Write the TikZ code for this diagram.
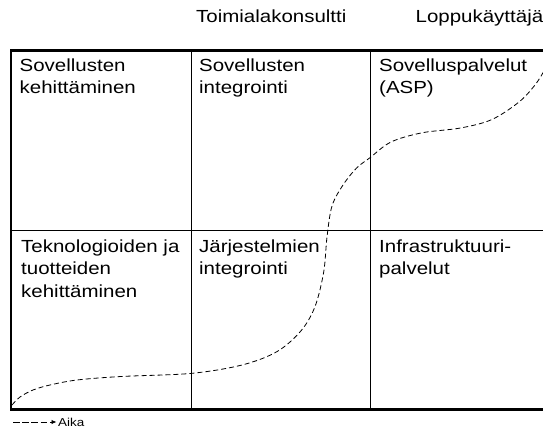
\documentclass[tikz,border=0pt]{standalone}
\usepackage{fontspec}
\setmainfont{Liberation Sans}
\newfontfamily\cellfont{Liberation Sans}[FakeStretch=1.17]
\usetikzlibrary{arrows.meta}
\begin{document}
\begin{tikzpicture}[x=1pt,y=-1pt,
  frame/.style={line width=2.2pt},
  grid/.style={line width=0.9pt},
  celltext/.style={anchor=base west,inner sep=0pt,align=left,
    font=\cellfont\fontsize{17.5}{22.5}\selectfont},
  headtext/.style={anchor=base west,inner sep=0pt,
    font=\cellfont\fontsize{17.5}{22.5}\selectfont},
  path/.style={line width=0.8pt,dash pattern=on 5pt off 3pt},
  legendline/.style={line width=0.8pt,dash pattern=on 6.5pt off 2.7pt,
    -{Latex[length=5pt,width=4.5pt]}}]
\useasboundingbox (0,0) rectangle (543,428);

% column headings
\node[headtext] (hc) at (196,22.7) {Toimialakonsultti};
\node[headtext] (hu) at (415.5,22.7) {Loppukäyttäjä};

% grid of the matrix
\draw[grid] (191.5,50.5) -- (191.5,409.5);
\draw[grid] (370,50.5) -- (370,409.5);
\draw[grid] (11,230) -- (545,230);
\draw[frame] (545,50.5) -- (11,50.5) -- (11,409.5) -- (545,409.5);

% cells (each node sits on the baseline of its last line)
\node[celltext] (a1) at (19.5,93.5) {Sovellusten\\kehittäminen};
\node[celltext] (a2) at (199,93.5) {Sovellusten\\integrointi};
\node[celltext] (a3) at (379,93.5) {Sovelluspalvelut\\(ASP)};
\node[celltext] (b1) at (21,297) {Teknologioiden ja\\tuotteiden\\kehittäminen};
\node[celltext] (b2) at (199,274.5) {Järjestelmien\\integrointi};
\node[celltext] (b3) at (379,274.5) {Infrastruktuuri-\\palvelut};

% development path over time
\draw[path] plot[smooth,tension=0.55] coordinates {
  (12,405) (20,397) (33,390) (50,385) (77,380) (121,376.5) (191,373.4)
  (242,365) (277,351.6) (301,330.8) (315,306.6) (323.7,272) (327,237)
  (332,206) (343,185) (356.6,168) (370,157.7) (391,142) (422,132.8)
  (460.5,128) (491.7,119.6) (519,102) (535,85) (544,71)};

% legend
\coordinate (lg) at (13,422);
\node[anchor=base west,inner sep=0pt,font=\cellfont\fontsize{11.5}{13}\selectfont]
  (aika) at (58,426) {Aika};
\draw[legendline] (lg) -- ([xshift=-1.5pt]aika.west |- lg);
\end{tikzpicture}
\end{document}
